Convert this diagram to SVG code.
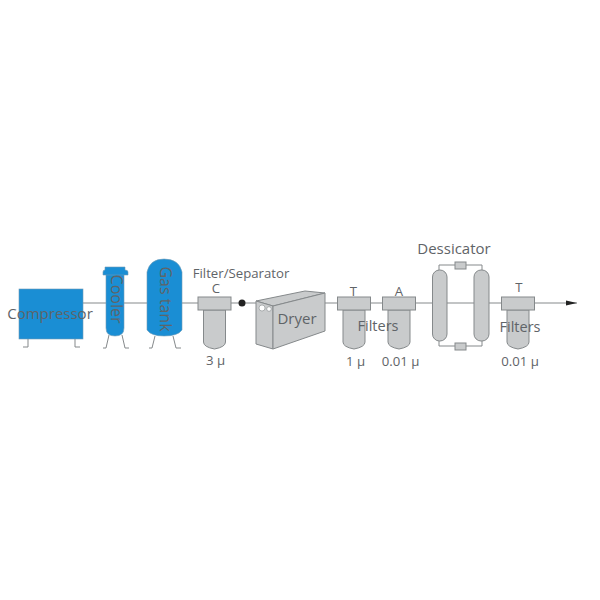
<svg xmlns="http://www.w3.org/2000/svg" width="600" height="600" viewBox="0 0 600 600">
<style>
text{font-family:"Open Sans","Noto Sans","DejaVu Sans",sans-serif;fill:#5f6468;text-anchor:middle}
.l{font-size:15px}
.s{font-size:13.200px}
.c{font-size:14.500px}
.blue{fill:#1a8ed4;stroke:#6f9ab5;stroke-width:.6}
.grey{fill:#c9cbcc;stroke:#85898b;stroke-width:1}
.line{fill:none;stroke:#85898b;stroke-width:1}
</style>
<defs>
<marker id="arr" markerUnits="userSpaceOnUse" markerWidth="12" markerHeight="8" refX="11" refY="4" orient="auto"><path d="M0 1.500 L11 4 L0 6.500 Z" fill="#222"/></marker>
<g id="filter">
<path class="grey" d="M-11 0 V32 Q-11 37 0 39 Q11 37 11 32 V0 Z"/>
<rect class="grey" x="-16.500" y="-13" width="33" height="13"/>
</g>
</defs>
<rect width="600" height="600" fill="#fff"/>
<g id="connectors">
<path class="line" d="M83 303 H106 M124 303 H147 M182 303 H198 M231 303 H256 M325 303 H337 M370 303 H383 M415 303 H433 M447 303 H474 M489 303 H502"/>
<path class="line" d="M534 303 H577" marker-end="url(#arr)"/>
<path class="line" d="M439 271 V265 H482 V271 M439 341 V346 H482 V341"/>
</g>
<g id="compressor">
<path class="line" d="M28 339 V347 H23 M75 339 V347 H80"/>
<rect class="blue" x="19" y="289" width="64" height="50"/>
<text class="l" x="50" y="319">Compressor</text>
</g>
<g id="cooler">
<path class="line" d="M109 335 L106 348 H103 M122 335 L125 348 H129"/>
<path class="blue" d="M106 272 V328 Q106 336 115 336 Q124 336 124 328 V272 Z"/>
<path class="blue" d="M105 267 H125 V270 Q128 270 128 272 V275 H103 V272 Q103 270 105 270 Z"/>
<text transform="translate(116 299) rotate(90)" y="5" style="font-size:16px">Cooler</text>
</g>
<g id="gas-tank">
<path class="line" d="M155 336 L152 348 H149 M173 336 L176 348 H181"/>
<path class="blue" d="M147 272 Q150 259 164 259 Q179 259 182 272 V330 Q178 336 164 336 Q151 336 147 330 Z"/>
<text transform="translate(165 299) rotate(90)" y="5" style="font-size:16px">Gas tank</text>
</g>
<g id="filter-separator">
<use href="#filter" x="214.500" y="310"/>
<text class="s" x="241" y="278">Filter/Separator</text>
<text class="s" x="216" y="293">C</text>
<text class="s" x="215.500" y="365">3 µ</text>
</g>
<g id="junction"><circle cx="242" cy="303" r="3.500" fill="#222"/></g>
<g id="dryer">
<path class="grey" d="M256 301 L305 291 L325 293 L273 306 Z"/>
<path class="grey" d="M256 301 L273 306 V349 L256 344 Z"/>
<path class="grey" d="M273 306 L325 293 V331 L273 349 Z"/>
<circle cx="262" cy="308" r="3" fill="#fff" stroke="#85898b" stroke-width=".6"/>
<circle cx="269" cy="309" r="2.300" fill="#fff" stroke="#85898b" stroke-width=".6"/>
<text class="l" x="297" y="324">Dryer</text>
</g>
<g id="filter-t1">
<use href="#filter" x="354" y="310"/>
<text class="s" x="353.500" y="296">T</text>
<text class="s" x="355.500" y="366">1 µ</text>
</g>
<g id="filter-a">
<use href="#filter" x="399" y="310"/>
<text class="s" x="399" y="296">A</text>
<text class="s" x="400.500" y="366">0.01 µ</text>
</g>
<text x="378" y="331" class="c">Filters</text>
<g id="dessicator">
<rect class="grey" x="432.500" y="270" width="14.500" height="71" rx="7"/>
<rect class="grey" x="474" y="270" width="15" height="71" rx="7"/>
<rect class="grey" x="455" y="262" width="11" height="7"/>
<rect class="grey" x="455" y="343" width="11" height="7"/>
<text x="454" y="254" style="font-size:15px">Dessicator</text>
</g>
<g id="filter-t2">
<use href="#filter" x="518" y="310"/>
<text class="s" x="519" y="292">T</text>
<text class="s" x="520" y="366">0.01 µ</text>
<text class="c" x="520" y="332">Filters</text>
</g>
</svg>
